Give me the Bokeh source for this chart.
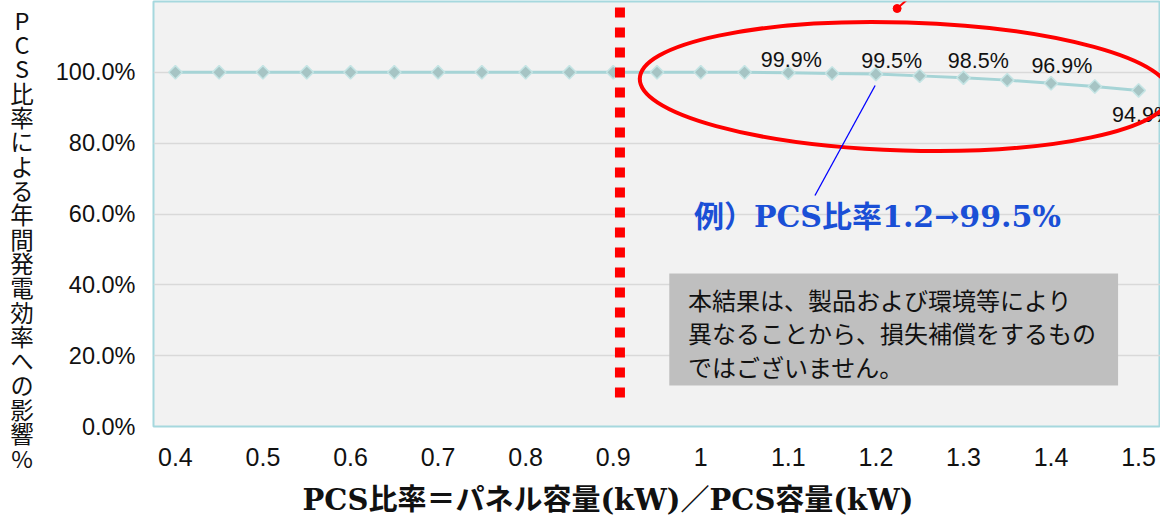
import math
from bokeh.plotting import figure
from bokeh.layouts import row, column
from bokeh.models import Range1d, FixedTicker, Label, BoxAnnotation, ColumnDataSource, Div
from bokeh.core.properties import value
from bokeh.embed import file_html
from bokeh.resources import INLINE

# ---------------- data ----------------
pcs_ratio = [0.40, 0.45, 0.50, 0.55, 0.60, 0.65, 0.70, 0.75, 0.80, 0.85, 0.90, 0.95,
             1.00, 1.05, 1.10, 1.15, 1.20, 1.25, 1.30, 1.35, 1.40, 1.45, 1.50]
efficiency_pct = [100.0, 100.0, 100.0, 100.0, 100.0, 100.0, 100.0, 100.0, 100.0, 100.0, 100.0, 100.0,
                  100.0, 100.0, 99.9, 99.7, 99.5, 99.0, 98.5, 97.8, 96.9, 96.0, 94.9]
labeled_ratio = [1.10, 1.20, 1.30, 1.40, 1.50]

x_ticks = [0.4, 0.5, 0.6, 0.7, 0.8, 0.9, 1.0, 1.1, 1.2, 1.3, 1.4, 1.5]
x_tick_labels = ["0.4", "0.5", "0.6", "0.7", "0.8", "0.9", "1", "1.1", "1.2", "1.3", "1.4", "1.5"]
y_ticks = [0, 20, 40, 60, 80, 100]
y_tick_labels = ["0.0%", "20.0%", "40.0%", "60.0%", "80.0%", "100.0%"]

x_title = "PCS比率＝パネル容量(kW)／PCS容量(kW)"
y_title = "PCS比率による年間発電効率への影響%"
example_text = "例）PCS比率1.2→99.5%"
note_lines = ["本結果は、製品および環境等により",
              "異なることから、損失補償をするもの",
              "ではございません。"]

# ---------------- geometry ----------------
W, H = 1160, 514
REF_W = 1176
SX = W / REF_W
YT_W = 45        # strip holding the vertical y title
XT_H = 30        # strip holding the x title
MAIN_H = H - XT_H
FL, FR, FT, FB = 153, 1160, 1, 426   # frame edges in absolute canvas px
X0, X1 = 0.375, 1.525
Y0, Y1 = 0.0, 120.0


def ref_x(rx):
    return X0 + (rx * SX - FL) / (FR - FL) * (X1 - X0)


def ref_y(ry):
    return Y1 - (ry - FT) / (FB - FT) * (Y1 - Y0)


# ---------------- main figure ----------------
p = figure(width=W - YT_W, height=MAIN_H, x_range=Range1d(X0, X1), y_range=Range1d(Y0, Y1),
           output_backend="svg", toolbar_location=None, title=None,
           min_border_left=FL - YT_W, min_border_right=W - FR, min_border_top=FT,
           min_border_bottom=MAIN_H - FB)

p.background_fill_color = "#f2f2f2"
p.border_fill_color = "white"
p.outline_line_color = "#a6d8de"
p.outline_line_width = 2

p.xgrid.grid_line_color = None
p.ygrid.grid_line_color = "#d9d9d9"
p.ygrid.grid_line_width = 1.5

for ax in (p.xaxis, p.yaxis):
    ax.axis_line_color = None
    ax.major_tick_line_color = None
    ax.minor_tick_line_color = None
    ax.major_tick_in = 0
    ax.major_tick_out = 0
    ax.minor_tick_in = 0
    ax.minor_tick_out = 0
    ax.major_label_text_font = "Liberation Sans"
    ax.major_label_text_color = "#111111"

p.xaxis.ticker = FixedTicker(ticks=x_ticks)
p.xaxis.major_label_overrides = dict(zip(x_ticks, x_tick_labels))
p.xaxis.major_label_text_font_size = "25px"
p.xaxis.major_label_standoff = 21

p.yaxis.ticker = FixedTicker(ticks=y_ticks)
p.yaxis.major_label_overrides = dict(zip(y_ticks, y_tick_labels))
p.yaxis.major_label_text_font_size = "23.5px"
p.yaxis.major_label_standoff = 18

# ---------------- series ----------------
src = ColumnDataSource(dict(x=pcs_ratio, y=efficiency_pct))
p.line("x", "y", source=src, line_color="#a6d4d6", line_width=3)
p.scatter("x", "y", source=src, marker="square", angle=math.pi / 4, size=9.5,
          fill_color="#a6c4c4", line_color="#c4e4e4", line_width=1.5)

# data labels
idx = [pcs_ratio.index(r) for r in labeled_ratio]
lab_dx = [3 * SX, 16 * SX, 15 * SX, 11 * SX, 4 * SX]
lab_dy = [-13.0, -13.3, -16.3, -17.5, 24.5]
lab_src = ColumnDataSource(dict(
    x=[pcs_ratio[i] for i in idx],
    y=[efficiency_pct[i] for i in idx],
    text=[f"{efficiency_pct[i]:.1f}%" for i in idx],
    dx=lab_dx, dy=lab_dy))
p.text("x", "y", text="text", source=lab_src, x_offset="dx", y_offset="dy",
       text_align="center", text_baseline="middle", text_color="#111111",
       text_font=value("Liberation Sans"), text_font_size="21.5px")

# ---------------- annotations ----------------
xd = ref_x(628)
p.segment(x0=[xd], y0=[ref_y(7)], x1=[xd], y1=[ref_y(397)], line_color="#ff0000",
          line_width=10, line_dash="10 10", line_cap="butt")

p.ellipse(x=[ref_x(917)], y=[ref_y(86)], width=538 * SX, height=128, angle=-0.03,
          width_units="screen", height_units="screen",
          fill_color=None, line_color="#ff0000", line_width=4)

p.segment(x0=[ref_x(909)], y0=[ref_y(8)], x1=[ref_x(925)], y1=[ref_y(-6)],
          line_color="#ff0000", line_width=2)
p.scatter(x=[ref_x(909)], y=[ref_y(8)], size=8, color="#ff0000")

p.segment(x0=[ref_x(886.7)], y0=[ref_y(85)], x1=[ref_x(825.7)], y1=[ref_y(195)],
          line_color="#0000ff", line_width=1.3)

p.add_layout(Label(x=ref_x(703), y=ref_y(216), text=example_text,
                   text_align="left", text_baseline="middle",
                   text_font="DejaVu Serif, Noto Sans CJK JP", text_font_style="bold",
                   text_font_size="30px", text_color="#1a4fd6"))

p.add_layout(BoxAnnotation(left=ref_x(678), right=ref_x(1133), top=ref_y(273), bottom=ref_y(385),
                           fill_color="#bfbfbf", fill_alpha=1.0, line_color=None))
for line_text, cy in zip(note_lines, [298.5, 332, 366]):
    p.add_layout(Label(x=ref_x(697), y=ref_y(cy), text=line_text,
                       text_align="left", text_baseline="middle",
                       text_font="Noto Sans CJK JP", text_font_size="24px",
                       text_color="#111111"))

# ---------------- axis titles (HTML text) ----------------
y_div = Div(
    text=('<div style="writing-mode:vertical-rl; text-orientation:upright; '
          'font-family:\'Noto Sans CJK JP\', sans-serif; font-size:23.5px; '
          'line-height:%dpx; letter-spacing:0.83px; color:#111; white-space:nowrap; '
          'padding-top:9px; margin:0;">%s</div>') % (YT_W - 1, y_title),
    width=YT_W, height=MAIN_H, margin=0)

x_div = Div(
    text=('<div style="width:%dpx; box-sizing:border-box; padding-left:%dpx; padding-top:2px; '
          'text-align:center; '
          'font-family:\'DejaVu Serif\', \'Noto Sans CJK JP\', serif; font-weight:bold; '
          'font-size:29px; line-height:%dpx; color:#111; white-space:nowrap; margin:0;">%s</div>')
         % (W, int(round(2 * 616.5 * SX - W)), XT_H - 2, x_title),
    width=W, height=XT_H, margin=0)

layout = column(row(y_div, p), x_div)
open("out.html", "w").write(file_html(layout, INLINE))
